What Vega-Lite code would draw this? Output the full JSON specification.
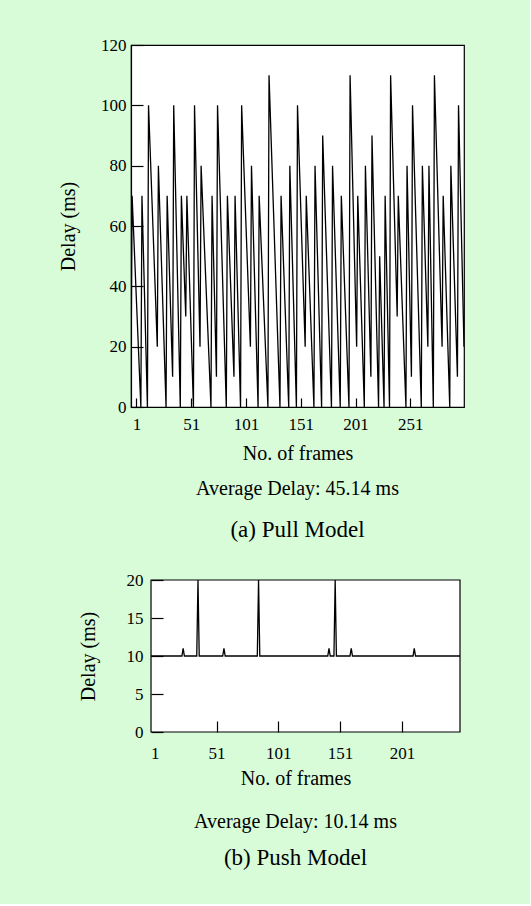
{
  "$schema": "https://vega.github.io/schema/vega-lite/v6.json",
  "background": "#d8fcd8",
  "padding": {"left": 57, "top": 35, "right": 65, "bottom": 34},
  "config": {
    "font": "Liberation Serif",
    "view": {"fill": "white", "stroke": "black", "strokeWidth": 1.2},
    "axis": {
      "labelFont": "Liberation Serif", "titleFont": "Liberation Serif",
      "labelFontSize": 17, "titleFontSize": 20, "titleFontWeight": "normal",
      "labelColor": "black", "titleColor": "black",
      "domainColor": "black", "tickColor": "black", "domainWidth": 1.2, "tickWidth": 1.2,
      "grid": false
    },
    "title": {"font": "Liberation Serif", "fontSize": 20, "fontWeight": "normal", "color": "black",
      "subtitleFont": "Liberation Serif", "subtitleFontSize": 23, "subtitleColor": "black"}
  },
  "spacing": 28,
  "vconcat": [
    {
      "width": 333, "height": 362,
      "data": {"values": [
        {"frame": -4, "delay": 10}, {"frame": -3, "delay": 70}, {"frame": 5, "delay": 0}, {"frame": 6, "delay": 70},
        {"frame": 11, "delay": 0}, {"frame": 12, "delay": 100}, {"frame": 20, "delay": 20}, {"frame": 21, "delay": 80},
        {"frame": 28, "delay": 0}, {"frame": 29, "delay": 70}, {"frame": 34, "delay": 10}, {"frame": 35, "delay": 100},
        {"frame": 41, "delay": 0}, {"frame": 42, "delay": 70}, {"frame": 46, "delay": 30}, {"frame": 47, "delay": 70},
        {"frame": 53, "delay": 0}, {"frame": 54, "delay": 100}, {"frame": 59, "delay": 20}, {"frame": 60, "delay": 80},
        {"frame": 69, "delay": 0}, {"frame": 70, "delay": 70}, {"frame": 74, "delay": 10}, {"frame": 75, "delay": 100},
        {"frame": 83, "delay": 0}, {"frame": 84, "delay": 70}, {"frame": 90, "delay": 10}, {"frame": 91, "delay": 70},
        {"frame": 96, "delay": 0}, {"frame": 97, "delay": 100}, {"frame": 105, "delay": 20}, {"frame": 106, "delay": 80},
        {"frame": 112, "delay": 0}, {"frame": 113, "delay": 70}, {"frame": 121, "delay": 0}, {"frame": 122, "delay": 110},
        {"frame": 132, "delay": 0}, {"frame": 133, "delay": 70}, {"frame": 140, "delay": 0}, {"frame": 141, "delay": 80},
        {"frame": 147, "delay": 0}, {"frame": 148, "delay": 100}, {"frame": 155, "delay": 20}, {"frame": 156, "delay": 70},
        {"frame": 163, "delay": 0}, {"frame": 164, "delay": 80}, {"frame": 170, "delay": 0}, {"frame": 171, "delay": 90},
        {"frame": 179, "delay": 0}, {"frame": 180, "delay": 80}, {"frame": 187, "delay": 0}, {"frame": 188, "delay": 70},
        {"frame": 195, "delay": 0}, {"frame": 196, "delay": 110}, {"frame": 202, "delay": 20}, {"frame": 203, "delay": 70},
        {"frame": 209, "delay": 0}, {"frame": 210, "delay": 80}, {"frame": 215, "delay": 10}, {"frame": 216, "delay": 90},
        {"frame": 222, "delay": 0}, {"frame": 223, "delay": 50}, {"frame": 227, "delay": 0}, {"frame": 228, "delay": 70},
        {"frame": 232, "delay": 0}, {"frame": 233, "delay": 110}, {"frame": 239, "delay": 30}, {"frame": 240, "delay": 70},
        {"frame": 247, "delay": 0}, {"frame": 248, "delay": 80}, {"frame": 252, "delay": 10}, {"frame": 253, "delay": 100},
        {"frame": 261, "delay": 0}, {"frame": 262, "delay": 80}, {"frame": 267, "delay": 20}, {"frame": 268, "delay": 80},
        {"frame": 272, "delay": 0}, {"frame": 273, "delay": 110}, {"frame": 280, "delay": 20}, {"frame": 281, "delay": 70},
        {"frame": 287, "delay": 0}, {"frame": 288, "delay": 80}, {"frame": 294, "delay": 10}, {"frame": 295, "delay": 100},
        {"frame": 300, "delay": 20}
      ]},
      "mark": {"type": "line", "color": "black", "strokeWidth": 1.3, "clip": true},
      "encoding": {
        "x": {"field": "frame", "type": "quantitative",
          "scale": {"domain": [-4, 300], "nice": false, "zero": false},
          "axis": {"values": [1, 51, 101, 151, 201, 251], "title": "No. of frames", "tickSize": -9, "labelPadding": 18, "titlePadding": 11, "labelFlush": false}},
        "y": {"field": "delay", "type": "quantitative",
          "scale": {"domain": [0, 120], "nice": false},
          "axis": {"values": [0, 20, 40, 60, 80, 100, 120], "title": "Delay (ms)", "tickSize": -12, "labelPadding": 17, "titlePadding": 22}}
      },
      "title": {"text": "Average Delay: 45.14 ms", "subtitle": "(a) Pull Model", "orient": "bottom", "anchor": "middle", "offset": 16, "subtitlePadding": 20}
    },
    {
      "width": 329, "height": 152,
      "view": {"fill": null, "stroke": null},
      "title": {"text": "Average Delay: 10.14 ms", "subtitle": "(b) Push Model", "orient": "bottom", "anchor": "middle", "offset": 24, "subtitlePadding": 15},
      "layer": [
        {
          "data": {"values": [{"panel": "push"}]},
          "mark": {"type": "rect", "fill": "white", "stroke": "black", "strokeWidth": 1.2},
          "encoding": {
            "x": {"datum": -2, "type": "quantitative",
              "scale": {"domain": [-18.2, 248], "nice": false, "zero": false},
              "axis": {"values": [1, 51, 101, 151, 201], "title": "No. of frames", "domain": false, "zindex": 1, "tickSize": -11, "labelPadding": 24, "titlePadding": 7, "labelFlush": false,
                "tickOpacity": {"condition": {"test": "datum.value == 1", "value": 0}, "value": 1}}},
            "x2": {"datum": 248},
            "y": {"datum": 0, "type": "quantitative",
              "scale": {"domain": [0, 20], "nice": false},
              "axis": {"values": [0, 5, 10, 15, 20], "title": "Delay (ms)", "domain": false, "zindex": 1, "offset": -20, "tickSize": -12, "labelPadding": 20, "titlePadding": 28}},
            "y2": {"datum": 20}
          }
        },
        {
          "data": {"values": [
            {"frame": -2, "delay": 10}, {"frame": 23, "delay": 10}, {"frame": 24, "delay": 11}, {"frame": 25, "delay": 10},
            {"frame": 35, "delay": 10}, {"frame": 36, "delay": 20}, {"frame": 37, "delay": 10},
            {"frame": 56, "delay": 10}, {"frame": 57, "delay": 11}, {"frame": 58, "delay": 10},
            {"frame": 84, "delay": 10}, {"frame": 85, "delay": 20}, {"frame": 86, "delay": 10},
            {"frame": 141, "delay": 10}, {"frame": 142, "delay": 11}, {"frame": 143, "delay": 10},
            {"frame": 146, "delay": 10}, {"frame": 147, "delay": 20}, {"frame": 148, "delay": 10},
            {"frame": 159, "delay": 10}, {"frame": 160, "delay": 11}, {"frame": 161, "delay": 10},
            {"frame": 210, "delay": 10}, {"frame": 211, "delay": 11}, {"frame": 212, "delay": 10},
            {"frame": 248, "delay": 10}
          ]},
          "mark": {"type": "line", "color": "black", "strokeWidth": 1.3},
          "encoding": {
            "x": {"field": "frame", "type": "quantitative",
              "scale": {"domain": [-18.2, 248], "nice": false, "zero": false},
              "axis": {"values": [1, 51, 101, 151, 201], "title": "No. of frames", "domain": false, "zindex": 1, "tickSize": -11, "labelPadding": 24, "titlePadding": 7, "labelFlush": false,
                "tickOpacity": {"condition": {"test": "datum.value == 1", "value": 0}, "value": 1}}},
            "y": {"field": "delay", "type": "quantitative",
              "scale": {"domain": [0, 20], "nice": false},
              "axis": {"values": [0, 5, 10, 15, 20], "title": "Delay (ms)", "domain": false, "zindex": 1, "offset": -20, "tickSize": -12, "labelPadding": 20, "titlePadding": 28}}
          }
        }
      ]
    }
  ]
}
